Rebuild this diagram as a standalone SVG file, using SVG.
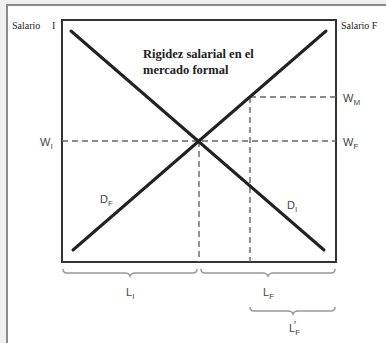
<svg xmlns="http://www.w3.org/2000/svg" width="386" height="343" viewBox="0 0 386 343">
<style>
.serif{font-family:"Liberation Serif","DejaVu Serif",serif;fill:#222}
.sans{font-family:"Liberation Sans","DejaVu Sans",sans-serif;fill:#444;font-size:11px}
.sub{font-size:8px}
.dash{stroke:#666;stroke-width:1.4;stroke-dasharray:6,4;fill:none}
.curve{stroke:#222;stroke-width:3;stroke-linecap:round;fill:none}
.brace{stroke:#999;stroke-width:1.5;fill:none}
</style>
<rect x="0" y="0" width="386" height="343" fill="#f0f0f0"/>
<rect x="7" y="5" width="390" height="350" fill="#fff" stroke="#8a8a8a" stroke-width="2"/>
<g id="axes">
<rect x="62" y="20" width="274" height="242" fill="none" stroke="#333" stroke-width="2"/>
<text class="serif" x="12" y="29" font-size="10">Salario</text>
<text class="serif" x="52" y="29" font-size="10">I</text>
<text class="serif" x="341" y="29" font-size="10">Salario F</text>
</g>
<g id="title">
<text class="serif" x="143" y="58" font-size="12.5" font-weight="bold">Rigidez salarial en el</text>
<text class="serif" x="143" y="74" font-size="12.5" font-weight="bold">mercado formal</text>
</g>
<g id="connectors">
<line class="dash" x1="62" y1="141" x2="336" y2="141"/>
<line class="dash" x1="250" y1="97" x2="336" y2="97"/>
<line class="dash" x1="199" y1="141" x2="199" y2="262"/>
<line class="dash" x1="250" y1="97" x2="250" y2="262"/>
</g>
<g id="DI">
<line class="curve" x1="71" y1="31" x2="324" y2="250"/>
<text class="sans" x="287" y="209">D<tspan class="sub" dy="3">I</tspan></text>
</g>
<g id="DF">
<line class="curve" x1="73" y1="250" x2="326" y2="31"/>
<text class="sans" x="100" y="203">D<tspan class="sub" dy="3">F</tspan></text>
</g>
<g id="wages">
<text class="sans" x="40" y="146">W<tspan class="sub" dy="3">I</tspan></text>
<text class="sans" x="343" y="102">W<tspan class="sub" dy="3">M</tspan></text>
<text class="sans" x="343" y="146">W<tspan class="sub" dy="3">F</tspan></text>
</g>
<g id="LI">
<path class="brace" d="M63,269 q0,4 4,4 H125 q4,0 5,3 q1,-3 5,-3 H193 q4,0 4,-4"/>
<text class="sans" x="126" y="296">L<tspan class="sub" dy="3">I</tspan></text>
</g>
<g id="LF">
<path class="brace" d="M201,269 q0,4 4,4 H263 q4,0 5,3 q1,-3 5,-3 H331 q4,0 4,-4"/>
<text class="sans" x="263" y="296">L<tspan class="sub" dy="3">F</tspan></text>
</g>
<g id="LF2">
<path class="brace" d="M250,307 q0,4 4,4 H288 q4,0 5,3 q1,-3 5,-3 H331 q4,0 4,-4"/>
<text class="sans" x="289" y="332">L<tspan class="sub" dy="3">F</tspan></text>
<text class="sans" x="294" y="329" font-size="10">′</text>
</g>
</svg>
